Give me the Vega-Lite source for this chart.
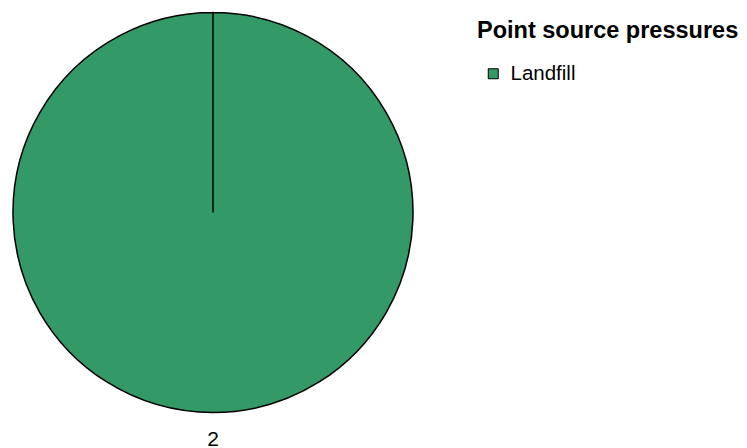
{
  "$schema": "https://vega.github.io/schema/vega-lite/v6.json",
  "width": 426,
  "height": 425,
  "padding": 0,
  "autosize": {"type": "pad"},
  "background": "white",
  "config": {
    "view": {"stroke": null},
    "font": "Liberation Sans"
  },
  "data": {
    "values": [
      {"source": "Landfill", "count": 2}
    ]
  },
  "encoding": {
    "theta": {
      "field": "count",
      "type": "quantitative",
      "stack": true,
      "scale": {"range": [0, 6.2831]}
    },
    "color": {
      "field": "source",
      "type": "nominal",
      "scale": {"domain": ["Landfill"], "range": ["#339966"]},
      "legend": {
        "title": "Point source pressures",
        "orient": "none",
        "legendX": 477,
        "legendY": 19,
        "padding": 0,
        "titleFont": "Liberation Sans",
        "titleFontSize": 23.5,
        "titleFontWeight": "bold",
        "titleColor": "black",
        "titleLimit": 400,
        "titlePadding": 21,
        "symbolType": "square",
        "symbolSize": 100,
        "symbolStrokeColor": "black",
        "symbolStrokeWidth": 1,
        "symbolOpacity": 1,
        "symbolOffset": 6,
        "labelFont": "Liberation Sans",
        "labelFontSize": 20.5,
        "labelColor": "black",
        "labelOffset": 7,
        "labelLimit": 300
      }
    }
  },
  "layer": [
    {
      "mark": {"type": "arc", "outerRadius": 200, "stroke": "black", "strokeWidth": 1.5, "opacity": 1}
    },
    {
      "mark": {"type": "text", "radius": 227, "fontSize": 21, "color": "black", "font": "Liberation Sans", "baseline": "middle"},
      "encoding": {
        "text": {"field": "count", "type": "quantitative"},
        "color": {"value": "black"}
      }
    }
  ]
}
